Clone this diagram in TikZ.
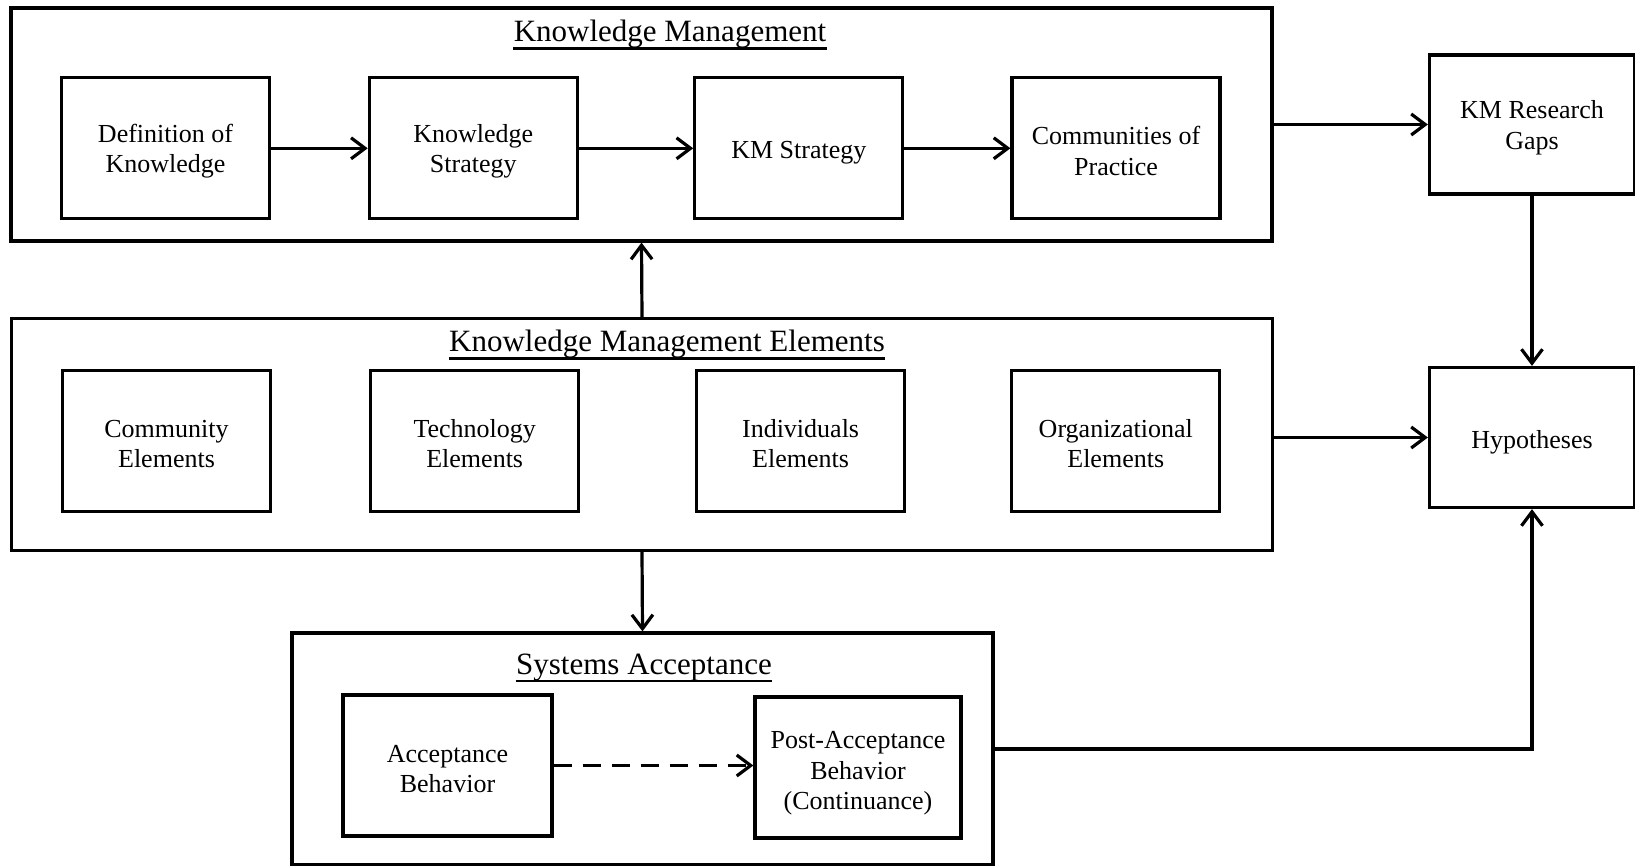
\documentclass[tikz,border=0pt]{standalone}
\usepackage{fontspec}
\setmainfont{Liberation Serif}
\usetikzlibrary{arrows.meta}

% invisible strut that sets the height of a node's first text line
\newcommand\firstline[1]{\rule{0pt}{#1}}

\tikzset{
  box/.style={draw, line width=1.6pt, minimum width=104pt, minimum height=70.5pt,
    align=center, inner sep=2pt, font=\fontsize{13}{15.3}\selectfont},
  frame/.style={draw, line width=1.6pt, inner sep=0pt},
  heading/.style={anchor=base, inner sep=0pt, font=\fontsize{15.5}{18}\selectfont},
  link/.style={line width=1.6pt, -{Straight Barb[length=7pt,width=10.5pt]}},
  uline/.style={line width=1.3pt},
}

\begin{document}
\begin{tikzpicture}[x=0.5pt, y=-0.5pt]
  \useasboundingbox (0,0) rectangle (1635,866);

  % outer frames
  \node[frame, minimum width=630.5pt, minimum height=116.5pt] (km) at (641.5,124.5) {};
  \node[frame, minimum width=630.5pt, minimum height=116pt] (kme) at (642,434.5) {};
  \node[frame, minimum width=350.5pt, minimum height=116pt] (sa) at (642.5,749) {};

  % frame headings, underlined
  \node[heading] (kmt) at (670,42) {Knowledge Management};
  \node[heading] (kmet) at (667,352) {Knowledge Management Elements};
  \node[heading] (sat) at (644,674) {Systems Acceptance};
  \foreach \t in {kmt,kmet,sat}
    \draw[uline] ([yshift=-3.4pt]\t.base west) -- ([yshift=-3.4pt]\t.base east);

  % knowledge management chain
  \node[box] (def) at (165.5,148.3) {\firstline{12pt}Definition of\\Knowledge};
  \node[box] (ks) at (473.3,148.3) {\firstline{12pt}Knowledge\\Strategy};
  \node[box] (kms) at (798.8,148.3) {\firstline{13.5pt}KM Strategy};
  \node[box] (cop) at (1116,148.3) {\firstline{12pt}Communities of\\Practice};

  % elements
  \node[box] (ce) at (166.5,440.7) {\firstline{12pt}Community\\Elements};
  \node[box] (te) at (474.7,440.7) {\firstline{12pt}Technology\\Elements};
  \node[box] (ie) at (800.6,440.7) {\firstline{12pt}Individuals\\Elements};
  \node[box] (oe) at (1115.75,440.7) {\firstline{12pt}Organizational\\Elements};

  % systems acceptance
  \node[box, minimum width=104.5pt, minimum height=70.5pt] (ab) at (447.5,765.5) {\firstline{12pt}Acceptance\\Behavior};
  \node[box, minimum width=103pt, minimum height=70.5pt] (pab) at (858,767.5) {\firstline{14.5pt}Post-Acceptance\\Behavior\\(Continuance)};

  % right column
  \node[box, minimum width=102.5pt, minimum height=69.5pt] (gaps) at (1532,124.5) {\firstline{12pt}KM Research\\Gaps};
  \node[box, minimum width=102.5pt, minimum height=70pt] (hyp) at (1532,437.5) {\firstline{13.5pt}Hypotheses};

  % connectors
  \draw[link] (def) -- (ks);
  \draw[link] (ks) -- (kms);
  \draw[link] (kms) -- (cop);
  \draw[link] (km.east |- gaps.west) -- (gaps.west);
  \draw[link] (gaps.south) -- (hyp.north);
  \draw[link] (kme.north) -- (km.south);
  \draw[link] (kme.east |- hyp.west) -- (hyp.west);
  \draw[link] (kme.south) -- (sa.north);
  \draw[link, dash pattern=on 9pt off 5.5pt] (ab.east) -- (pab.west |- ab.east);
  \draw[link] (sa.east) -| (hyp.south);
\end{tikzpicture}
\end{document}
